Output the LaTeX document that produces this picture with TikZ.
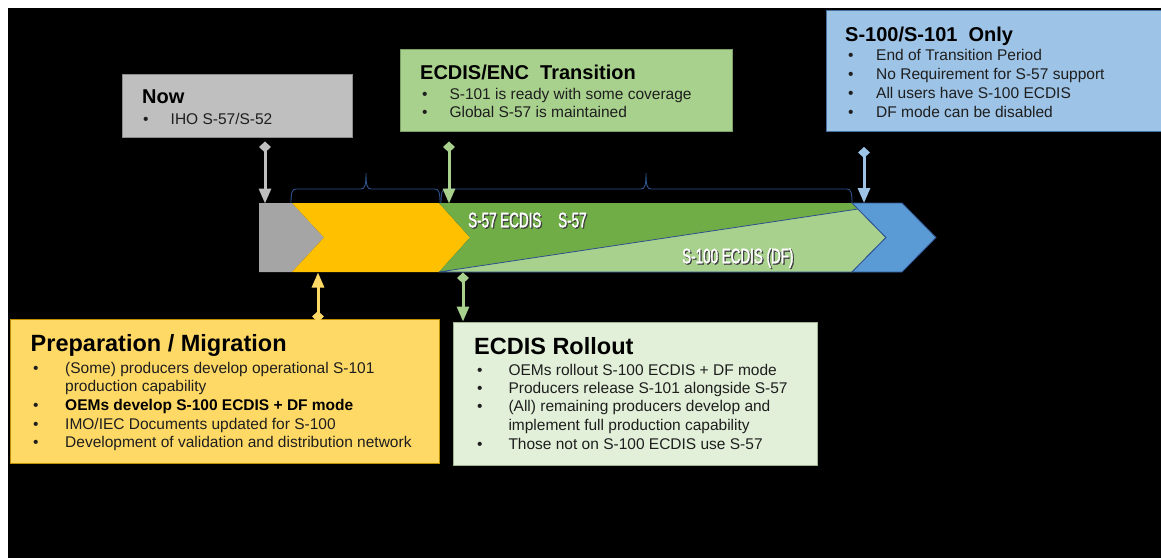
\documentclass[tikz,border=0pt]{standalone}
\usepackage{fontspec}
\setmainfont{Liberation Sans}
\newfontfamily\barfont[FakeStretch=0.64,FakeBold=1.6]{Liberation Sans}
\usetikzlibrary{arrows.meta}

\definecolor{nowgray}{HTML}{BFBFBF}
\definecolor{nowedge}{HTML}{8C8C8C}
\definecolor{segGray}{HTML}{A5A5A5}
\definecolor{segYellow}{HTML}{FFC000}
\definecolor{segGreen}{HTML}{70AD47}
\definecolor{segLight}{HTML}{A9D18E}
\definecolor{segBlue}{HTML}{5B9BD5}
\definecolor{navy}{HTML}{2F528F}
\definecolor{prepFill}{HTML}{FFD966}
\definecolor{prepEdge}{HTML}{BF9000}
\definecolor{transFill}{HTML}{A9D18E}
\definecolor{transEdge}{HTML}{7F9F6A}
\definecolor{rollFill}{HTML}{E2F0D9}
\definecolor{rollEdge}{HTML}{9FB58F}
\definecolor{onlyFill}{HTML}{9DC3E6}
\definecolor{onlyEdge}{HTML}{41719C}
\definecolor{bodytext}{HTML}{1E1E1E}
\definecolor{arrGray}{HTML}{BFBFBF}
\definecolor{arrGreen}{HTML}{A9D18E}
\definecolor{arrBlue}{HTML}{9DC3E6}
\definecolor{arrYellow}{HTML}{FFD966}

\begin{document}
\begin{tikzpicture}[x=1pt,y=-1pt,
  card/.style={draw, line width=0.8pt, anchor=north west, inner sep=0pt},
  headA/.style={anchor=base west, inner sep=0pt, text=black,
    font=\fontsize{23.5}{28}\selectfont\bfseries},
  headB/.style={anchor=base west, inner sep=0pt, text=black,
    font=\fontsize{20}{24}\selectfont\bfseries},
  item/.style={anchor=base west, inner sep=0pt, text=bodytext,
    font=\fontsize{15.5}{18.6}\selectfont},
  bartext/.style={anchor=base west, inner sep=0pt, text=white,
    font=\fontsize{21}{24}\barfont},
  barshadow/.style={bartext, text=black!75},
  link/.style={line width=3pt,
    {Diamond[width=12pt,length=11pt]}-{Triangle[width=12pt,length=15pt]}},
  bracket/.style={draw=navy, line width=0.9pt}
]
\useasboundingbox (0,0) rectangle (1161,558);
\clip (0,0) rectangle (1161,558);
\fill[white] (0,0) rectangle (1161,558);
\fill[black] (8,8) rectangle (1161,558);

% ---- timeline bar ----
\fill[segGray] (259,203) -- (292,203) -- (324,237.5) -- (292,272) -- (259,272) -- cycle;
\fill[segYellow] (292,203) -- (439,203) -- (470,237.5) -- (439,272) -- (292,272) -- (324,237.5) -- cycle;
\fill[segGreen] (439,203) -- (853,203) -- (858,209) -- (439,272) -- (470,237.5) -- cycle;
\filldraw[fill=segLight, draw=navy, line width=0.8pt]
  (439,272) -- (858,209) -- (886,237.5) -- (852,272) -- cycle;
\filldraw[fill=segBlue, draw=navy, line width=0.8pt]
  (852,203) -- (902,203) -- (936,237.5) -- (902,272) -- (852,272) -- (886,237.5) -- cycle;

% ---- labels inside the bar ----
\node[barshadow] (s57shadow) at (469.2,228.5) {S-57 ECDIS};
\node[bartext] (s57label) at (468,227.3) {S-57 ECDIS};
\node[barshadow] (s57bshadow) at (559.2,228.5) {S-57};
\node[bartext] (s57blabel) at (558,227.3) {S-57};
\node[barshadow] (s100shadow) at (683.2,264.5) {S-100 ECDIS (DF)};
\node[bartext] (s100label) at (682,263.3) {S-100 ECDIS (DF)};

% ---- brackets over the phases ----
\draw[bracket] (291,203) .. controls (291,193) and (292,189) .. (296,189) -- (361,189)
  .. controls (365,189) and (366,185) .. (366,173)
  .. controls (366,185) and (367,189) .. (371,189) -- (435,189)
  .. controls (439,189) and (440,193) .. (440,203);
\draw[bracket] (441,203) .. controls (441,193) and (442,189) .. (446,189) -- (641,189)
  .. controls (645,189) and (646,185) .. (646,173)
  .. controls (646,185) and (647,189) .. (651,189) -- (847,189)
  .. controls (851,189) and (852,193) .. (852,203);

% ---- Now ----
\node[card, fill=nowgray, draw=nowedge, minimum width=230pt, minimum height=63pt] (now) at (122,74) {};
\node[headB] (nowT) at (142,103.3) {Now};
\node[item] (nowB1) at (143,124) {\textbullet};
\node[item] (nowL1) at (170.5,124) {IHO S-57/S-52};

% ---- ECDIS/ENC Transition ----
\node[card, fill=transFill, draw=transEdge, minimum width=332pt, minimum height=82pt] (trans) at (400,49) {};
\node[headB] (transT) at (420,79) {ECDIS/ENC\ \ Transition};
\node[item] (transB1) at (422,99) {\textbullet};
\node[item] (transL1) at (449.3,99) {S-101 is ready with some coverage};
\node[item] (transB2) at (422,117) {\textbullet};
\node[item] (transL2) at (449.3,117) {Global S-57 is maintained};

% ---- S-100/S-101 Only ----
\node[card, fill=onlyFill, draw=onlyEdge, minimum width=345pt, minimum height=121pt] (only) at (826,10) {};
\node[headB] (onlyT) at (845,41.7) {S-100/S-101\ \ Only};
\node[item] (onlyB1) at (848,60.7) {\textbullet};
\node[item] (onlyL1) at (876,60.7) {End of Transition Period};
\node[item] (onlyB2) at (848,79.7) {\textbullet};
\node[item] (onlyL2) at (876,79.7) {No Requirement for S-57 support};
\node[item] (onlyB3) at (848,98.7) {\textbullet};
\node[item] (onlyL3) at (876,98.7) {All users have S-100 ECDIS};
\node[item] (onlyB4) at (848,117.5) {\textbullet};
\node[item] (onlyL4) at (876,117.5) {DF mode can be disabled};

% ---- Preparation / Migration ----
\node[card, fill=prepFill, draw=prepEdge, minimum width=429pt, minimum height=144pt] (prep) at (10,319) {};
\node[headA] (prepT) at (30.5,351.7) {Preparation / Migration};
\node[item] (prepB1) at (33,373.3) {\textbullet};
\node[item] (prepL1) at (65,373.3) {(Some) producers develop operational S-101};
\node[item] (prepL1b) at (65,391.7) {production capability};
\node[item] (prepB2) at (33,410.2) {\textbullet};
\node[item, font=\fontsize{15.5}{18.6}\selectfont\bfseries, text=black] (prepL2) at (65,410.2) {OEMs develop S-100 ECDIS + DF mode};
\node[item] (prepB3) at (33,429) {\textbullet};
\node[item] (prepL3) at (65,429) {IMO/IEC Documents updated for S-100};
\node[item] (prepB4) at (33,447.7) {\textbullet};
\node[item] (prepL4) at (65,447.7) {Development of validation and distribution network};

% ---- ECDIS Rollout ----
\node[card, fill=rollFill, draw=rollEdge, minimum width=364pt, minimum height=143pt] (roll) at (453,322) {};
\node[headA] (rollT) at (474,354) {ECDIS Rollout};
\node[item] (rollB1) at (477,375) {\textbullet};
\node[item] (rollL1) at (508.3,375) {OEMs rollout S-100 ECDIS + DF mode};
\node[item] (rollB2) at (477,393.4) {\textbullet};
\node[item] (rollL2) at (508.3,393.4) {Producers release S-101 alongside S-57};
\node[item] (rollB3) at (477,411.8) {\textbullet};
\node[item] (rollL3) at (508.3,411.8) {(All) remaining producers develop and};
\node[item] (rollL3b) at (508.3,430.2) {implement full production capability};
\node[item] (rollB4) at (477,449.4) {\textbullet};
\node[item] (rollL4) at (508.3,449.4) {Those not on S-100 ECDIS use S-57};

% ---- markers linking the cards to the bar ----
\coordinate (nowA) at (265,141.5);   \coordinate (nowZ) at (265,203.5);
\coordinate (transA) at (449,141.5); \coordinate (transZ) at (449,203.5);
\coordinate (onlyA) at (864,147);    \coordinate (onlyZ) at (864,203);
\coordinate (prepA) at (318,322);    \coordinate (prepZ) at (318,272.5);
\coordinate (rollA) at (463,272.5);  \coordinate (rollZ) at (463,321.5);

\draw[link, draw=arrGray, fill=arrGray] (nowA) -- (nowZ);
\draw[link, draw=arrGreen, fill=arrGreen] (transA) -- (transZ);
\draw[link, draw=arrBlue, fill=arrBlue] (onlyA) -- (onlyZ);
\draw[link, draw=arrYellow, fill=arrYellow] (prepA) -- (prepZ);
\draw[link, draw=arrGreen, fill=arrGreen] (rollA) -- (rollZ);
\end{tikzpicture}
\end{document}
